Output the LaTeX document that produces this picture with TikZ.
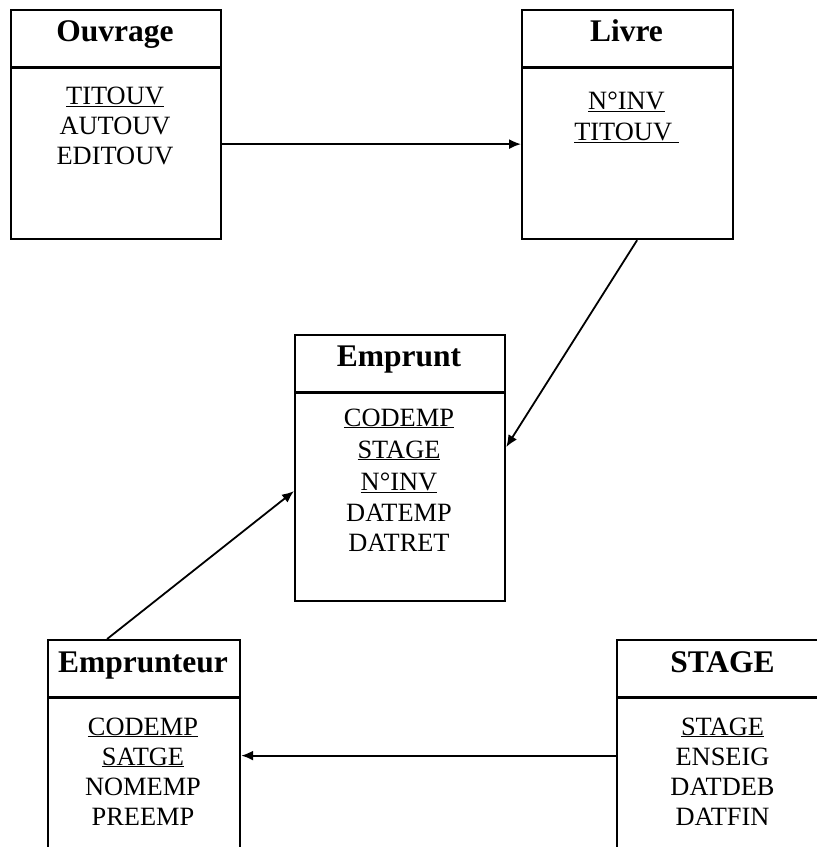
\documentclass[tikz,border=0pt]{standalone}
\usepackage{fontspec}
\setmainfont{Liberation Serif}
\usetikzlibrary{arrows.meta}
\begin{document}
\begin{tikzpicture}[x=1pt,y=-1pt,
  entity/.style={draw,line width=2.2pt,anchor=north west,inner sep=0pt},
  sep/.style={line width=2.2pt},
  title/.style={anchor=base,inner sep=0pt,font=\fontsize{31.5}{36}\selectfont\bfseries},
  attr/.style={anchor=base,inner sep=0pt,font=\fontsize{26.4}{30}\selectfont},
  link/.style={line width=1.8pt,-{Latex[length=12pt,width=10pt]}}]
\useasboundingbox (0,0) rectangle (817,847);
\clip (0,0) rectangle (817,847);

% entity frames
\node[entity,minimum width=210pt,minimum height=229pt] (ouv) at (10,9) {};
\node[entity,minimum width=211pt,minimum height=229pt] (liv) at (521,9) {};
\node[entity,minimum width=210pt,minimum height=266pt] (emp) at (294,334) {};
\node[entity,minimum width=192pt,minimum height=231pt] (emr) at (47,639) {};
\node[entity,minimum width=213pt,minimum height=231pt] (stg) at (616,639) {};

% title separators
\foreach \e in {ouv,liv,emp,emr,stg}
  \draw[sep] ([yshift=-58.5pt]\e.north west) -- ([yshift=-58.5pt]\e.north east);

% Ouvrage
\node[title] (ouv-t) at (115,41) {Ouvrage};
\node[attr] (ouv-1) at (115,104) {\underline{TITOUV}};
\node[attr] (ouv-2) at (115,134) {AUTOUV};
\node[attr] (ouv-3) at (115,164) {EDITOUV};

% Livre
\node[title] (liv-t) at (626.5,41) {Livre};
\node[attr] (liv-1) at (626.5,109) {\underline{N°INV}};
\node[attr] (liv-2) at (626.5,140) {\underline{TITOUV\ }};

% Emprunt
\node[title] (emp-t) at (399,366) {Emprunt};
\node[attr] (emp-1) at (399,426) {\underline{CODEMP}};
\node[attr] (emp-2) at (399,458) {\underline{STAGE}};
\node[attr] (emp-3) at (399,490) {\underline{N°INV}};
\node[attr] (emp-4) at (399,521) {DATEMP};
\node[attr] (emp-5) at (399,551) {DATRET};

% Emprunteur
\node[title] (emr-t) at (143,672) {Emprunteur};
\node[attr] (emr-1) at (143,735) {\underline{CODEMP}};
\node[attr] (emr-2) at (143,765) {\underline{SATGE}};
\node[attr] (emr-3) at (143,795) {NOMEMP};
\node[attr] (emr-4) at (143,825) {PREEMP};

% STAGE
\node[title] (stg-t) at (722.5,672) {STAGE};
\node[attr] (stg-1) at (722.5,735) {\underline{STAGE}};
\node[attr] (stg-2) at (722.5,765) {ENSEIG};
\node[attr] (stg-3) at (722.5,795) {DATDEB};
\node[attr] (stg-4) at (722.5,825) {DATFIN};

% references between entities
\draw[link] ([yshift=-19.5pt]ouv.east) -- ([yshift=-19.5pt]liv.west);
\draw[link] ([xshift=9.5pt]liv.south) -- ([yshift=21pt]emp.east);
\draw[link] ([xshift=-37pt]emr.north) -- ([yshift=-23pt]emp.west);
\draw[link] (stg.west) -- (emr.east);
\end{tikzpicture}
\end{document}
